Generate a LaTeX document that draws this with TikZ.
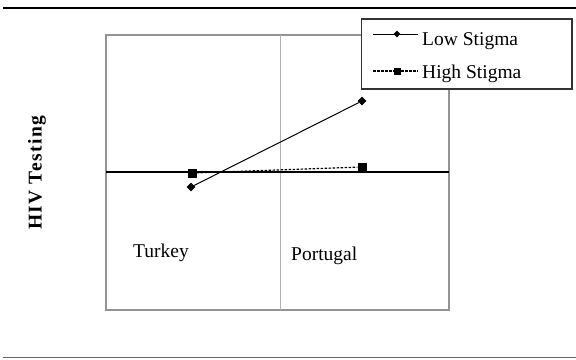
\documentclass[tikz,border=0pt]{standalone}
\usepackage{fontspec}
\setmainfont{Liberation Serif}
\begin{document}
\begin{tikzpicture}[x=1pt,y=-1pt,
  lbl/.style={font=\fontsize{19.5}{22}\selectfont, inner sep=0pt},
  frame/.style={draw=black!42, line width=1.2pt},
  divider/.style={draw=black!30, line width=0.8pt},
  lowline/.style={draw=black, line width=1pt},
  highline/.style={draw=black, line width=1.2pt, dash pattern=on 2.5pt off 1.5pt},
  dmark/.style={diamond, fill=black, inner sep=0pt, minimum size=#1},
  smark/.style={rectangle, fill=black, inner sep=0pt, minimum size=#1}]
\usetikzlibrary{shapes.geometric}
\useasboundingbox (0,0) rectangle (576,359);
% rules
\draw[line width=2pt] (3,7.5) -- (576,7.5);
\draw[line width=1.5pt, black!60] (3,357.5) -- (576,357.5);
% plot frame
\draw[frame] (106,35) rectangle (449,310);
\draw[divider] (280,35) -- (280,310);
\draw[line width=1.4pt] (106,172) -- (449,172);
% axis title
\node[lbl, font=\fontsize{19.5}{22}\selectfont\bfseries\addfontfeature{LetterSpace=7}, rotate=90] (ytitle) at (37,173) {HIV Testing};
% category labels
\node[lbl, anchor=base west] (turkey) at (133,257) {Turkey};
\node[lbl, anchor=base west] (portugal) at (291,260) {Portugal};
% data
\node[dmark=9pt] (lowT) at (191,187) {};
\node[dmark=9pt] (lowP) at (362,101) {};
\node[smark=9pt] (highT) at (192,173) {};
\node[smark=9pt] (highP) at (362,167) {};
\draw[lowline] (lowT) -- (lowP);
\draw[highline] (highT) -- (highP);
% legend
\draw[line width=1.2pt, black!80, fill=white] (361.5,19) rectangle (572,89);
\coordinate (l1a) at (373,34); \coordinate (l1b) at (418,34);
\coordinate (l2a) at (373,71); \coordinate (l2b) at (418,71);
\draw[lowline] (l1a) -- (l1b);
\draw[highline] (l2a) -- (l2b);
\node[dmark=7pt] (legLow) at (397,34) {};
\node[smark=7pt] (legHigh) at (397,71) {};
\node[lbl, anchor=base west] (tLow) at (422,45) {Low Stigma};
\node[lbl, anchor=base west] (tHigh) at (422,78) {High Stigma};
\end{tikzpicture}
\end{document}
